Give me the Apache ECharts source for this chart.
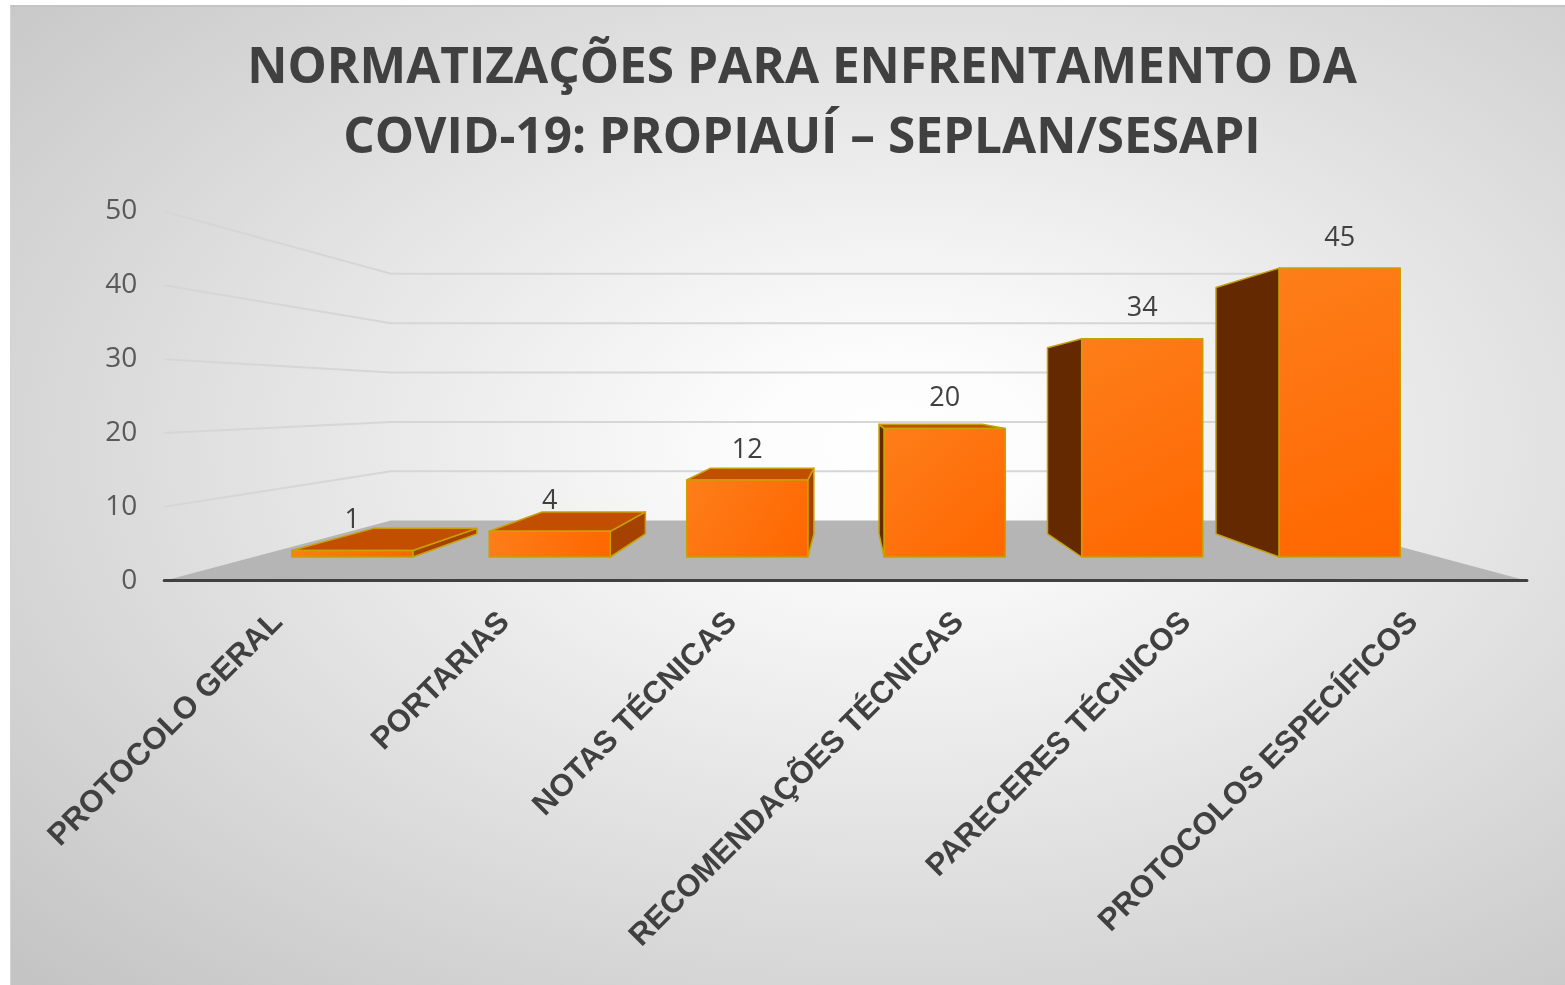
<!DOCTYPE html>
<html>
<head>
<meta charset="utf-8">
<title>Normatizações COVID-19</title>
<script src="https://cdn.jsdelivr.net/npm/echarts@6/dist/echarts.min.js"></script>
<style>
  html, body { margin: 0; padding: 0; background: #fff; }
  #bg {
    position: absolute; left: 10px; top: 5px; width: 1555px; height: 980px;
    box-sizing: border-box;
    border-top: 2px solid #c4c4c4; border-left: 1px solid #d4d4d4;
    background: radial-gradient(ellipse farthest-corner at 57% 45%, #ffffff 0%, #fcfcfc 12%, #c3c3c3 100%);
  }
  #chart { position: absolute; left: 0; top: 0; width: 1565px; height: 985px; }
</style>
</head>
<body>
<div id="bg"></div>
<div id="chart"></div>
<script>
  'use strict'

  var titleLines = ['NORMATIZAÇÕES PARA ENFRENTAMENTO DA', 'COVID-19: PROPIAUÍ – SEPLAN/SESAPI'];
  var categories = ['PROTOCOLO GERAL', 'PORTARIAS', 'NOTAS TÉCNICAS', 'RECOMENDAÇÕES TÉCNICAS', 'PARECERES TÉCNICOS', 'PROTOCOLOS ESPECÍFICOS'];
  var values = [1, 4, 12, 20, 34, 45];
  var yTicks = [0, 10, 20, 30, 40, 50];

  /* fake 3D: everything is projected from the plane of the bar fronts */
  var VP = [849, 399.5];          // vanishing point
  var K_FLOOR = 1.15;             // front edge of the floor
  var K_BACK = 0.853;             // back face of the bars
  var K_WALL = 0.769;             // back wall
  var BAR_RATIO = 0.613;
  var W = 1565, H = 985;
  var front = { left: 253.5, right: 1438.5, top: 236, base: 557 };

  function proj(p, k) {
    return [VP[0] + (p[0] - VP[0]) * k, VP[1] + (p[1] - VP[1]) * k];
  }

  var fl = proj([front.left, front.top], K_FLOOR);
  var fr = proj([front.right, front.base], K_FLOOR);

  function poly(points, fill) {
    return {
      type: 'polygon',
      shape: { points: points },
      style: { fill: fill, stroke: '#c9a100', lineWidth: 1.5, lineJoin: 'round' }
    };
  }

  function renderScene(params, api) {
    var band = api.size([1, 0])[0];
    var x0 = api.coord([0, 0])[0] - band / 2;
    var x1 = api.coord([categories.length - 1, 0])[0] + band / 2;
    var y0 = api.coord([0, 0])[1];
    var children = [];
    yTicks.forEach(function (t) {
      if (t === yTicks[0]) return;
      var y = api.coord([0, t])[1];
      children.push({
        type: 'polyline',
        shape: { points: [proj([x0, y], K_FLOOR), proj([x0, y], K_WALL), proj([x1, y], K_WALL)] },
        style: { stroke: '#d6d6d6', lineWidth: 2, fill: null }
      });
    });
    children.push({
      type: 'polygon',
      shape: { points: [proj([x0, y0], K_FLOOR), proj([x1, y0], K_FLOOR), proj([x1, y0], K_WALL), proj([x0, y0], K_WALL)] },
      style: { fill: '#b5b5b5' }
    });
    return { type: 'group', children: children };
  }

  function renderBar(params, api) {
    var i = api.value(0), v = api.value(1);
    var w = api.size([1, 0])[0] * BAR_RATIO;
    var top = api.coord([i, v]), bot = api.coord([i, 0]);
    var xl = top[0] - w / 2, xr = top[0] + w / 2, yt = top[1], yb = bot[1];
    var fTL = [xl, yt], fTR = [xr, yt], fBR = [xr, yb], fBL = [xl, yb];
    var bTL = proj(fTL, K_BACK), bTR = proj(fTR, K_BACK), bBR = proj(fBR, K_BACK), bBL = proj(fBL, K_BACK);
    var ch = [];
    if (xl > VP[0]) ch.push(poly([fTL, bTL, bBL, fBL], '#652900'));
    if (xr < VP[0]) ch.push(poly([fTR, bTR, bBR, fBR], '#a64200'));
    if (yt > VP[1]) ch.push(poly([fTL, fTR, bTR, bTL], '#c24f00'));
    ch.push(poly([fTL, fTR, fBR, fBL], new echarts.graphic.LinearGradient(0, 0, 1, 1, [
      { offset: 0, color: '#fd7e1a' },
      { offset: 1, color: '#ff6600' }
    ])));
    ch.push({
      type: 'text',
      x: top[0], y: yt - 30,
      style: {
        text: String(v), fill: '#404040', fontSize: 27, fontFamily: 'Open Sans',
        align: 'center', verticalAlign: 'middle'
      }
    });
    return { type: 'group', children: ch };
  }

  var chart = echarts.init(document.getElementById('chart'), null, { renderer: 'canvas' });
  var option = {
    backgroundColor: 'transparent',
    animation: false,
    title: {
      text: titleLines.join('\n'),
      left: 797, top: 29, textAlign: 'center',
      textStyle: { fontFamily: 'Open Sans', fontWeight: 'bold', fontSize: 49.5, lineHeight: 70, color: '#404040' }
    },
    grid: [
      { left: front.left, right: W - front.right, top: front.top, bottom: H - front.base, containLabel: false, outerBoundsMode: 'none' },
      { left: fl[0], right: W - fr[0], top: fl[1], bottom: H - fr[1], containLabel: false, outerBoundsMode: 'none' }
    ],
    xAxis: [
      { gridIndex: 0, type: 'category', data: categories, show: false },
      {
        gridIndex: 1, type: 'category', data: categories, z: 5,
        axisLine: { show: true, lineStyle: { color: '#404040', width: 3 } },
        axisTick: { show: false },
        axisLabel: {
          interval: 0, rotate: 45, margin: 37,
          fontFamily: 'Liberation Sans', fontWeight: 'bold', fontSize: 31, color: '#404040'
        }
      }
    ],
    yAxis: [
      { gridIndex: 0, type: 'value', min: yTicks[0], max: yTicks[yTicks.length - 1], interval: yTicks[1] - yTicks[0], show: false },
      {
        gridIndex: 1, type: 'value', min: yTicks[0], max: yTicks[yTicks.length - 1], interval: yTicks[1] - yTicks[0],
        axisLine: { show: false }, axisTick: { show: false }, splitLine: { show: false },
        axisLabel: { margin: 27, fontFamily: 'Open Sans', fontSize: 28, color: '#595959' }
      }
    ],
    series: [
      {
        type: 'custom', name: 'scene', xAxisIndex: 0, yAxisIndex: 0, z: 1,
        silent: true, clip: false,
        renderItem: renderScene,
        data: [[0, 0]]
      },
      {
        type: 'custom', name: 'Normatizações', xAxisIndex: 0, yAxisIndex: 0, z: 3,
        clip: false,
        renderItem: renderBar,
        encode: { x: 0, y: 1 },
        data: values.map(function (v, i) { return [i, v]; })
      }
    ]
  };
  chart.setOption(option);
</script>
</body>
</html>
